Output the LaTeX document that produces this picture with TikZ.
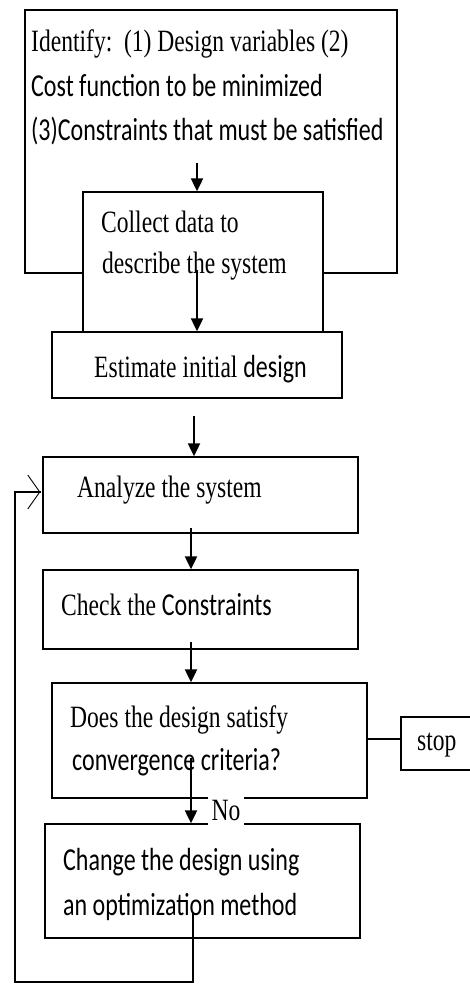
\documentclass[tikz,border=0pt]{standalone}
\usepackage{fontspec}
\setmainfont{Liberation Serif}[FakeStretch=0.76]
\newfontfamily\calfont{Carlito}[FakeStretch=0.75]
\newcommand\sanspart[1]{{\fontsize{32}{38}\calfont #1}}
\usetikzlibrary{arrows.meta}

\begin{document}
\begin{tikzpicture}[x=1pt,y=-1pt,
  box/.style={draw, line width=1.4pt, fill=white, inner sep=0pt},
  txt/.style={anchor=base west, inner sep=0pt, font=\fontsize{31}{37}\selectfont},
  stxt/.style={anchor=base west, inner sep=0pt, font=\fontsize{32}{38}\calfont},
  flow/.style={line width=2.2pt, -{Triangle[length=13pt,width=12pt]}},
  back/.style={line width=2.6pt, -{Straight Barb[length=12pt,width=34pt,line width=0.9pt]}},
]
\useasboundingbox (0,0) rectangle (469,984);

% boxes
\node[box, minimum width=372pt, minimum height=263pt] (ident) at (211,141.5) {};
\node[box, minimum width=240pt, minimum height=140pt] (collect) at (203,262) {};
\node[box, minimum width=290pt, minimum height=66pt]  (estimate) at (197,365) {};
\node[box, minimum width=315pt, minimum height=76pt]  (analyze) at (200.5,495) {};
\node[box, minimum width=315pt, minimum height=79pt]  (check) at (200.5,609.5) {};
\node[box, minimum width=315pt, minimum height=115pt] (conv) at (209.5,740.5) {};
\node[box, minimum width=315pt, minimum height=114pt] (change) at (202.5,881) {};
\node[box, minimum width=99pt, minimum height=53pt]   (stop) at (450.5,743.5) {};

% texts
\node[txt]  (t1a) at (31,52)  {Identify:\ \ (1) Design variables (2)};
\node[stxt] (t1b) at (31,97)  {Cost function to be minimized};
\node[stxt] (t1c) at (31,141) {(3)Constraints that must be satisfied};
\node[txt]  (t2a) at (101,233) {Collect data to};
\node[txt]  (t2b) at (102,273) {describe the system};
\node[txt]  (t3)  at (94,377)  {Estimate initial \sanspart{design}};
\node[txt]  (t4)  at (77,497)  {Analyze the system};
\node[txt]  (t5)  at (61,615)  {Check the \sanspart{Constraints}};
\node[txt]  (t6a) at (70,727)  {Does the design satisfy};
\node[stxt] (t6b) at (72,770)  {convergence criteria?};
\node[stxt] (t7a) at (63,870)  {Change the design using};
\node[stxt] (t7b) at (63,915)  {an optimization method};
\node[txt]  (tstop) at (417,750) {stop};

% connectors
\coordinate (s1) at (197,163);
\coordinate (s2) at (197,270);
\coordinate (s3) at (194,416);
\coordinate (s4) at (191,528);
\coordinate (s5) at (191,642);
\coordinate (s6) at (191,758);
\coordinate (s7) at (193,913);
\coordinate (lc) at (15,982);

\draw[flow] (s1) -- (s1 |- collect.north);
\draw[flow] (s2) -- (s2 |- estimate.north);
\draw[flow] (s3) -- (s3 |- analyze.north);
\draw[flow] (s4) -- (s4 |- check.north);
\draw[flow] (s5) -- (s5 |- conv.north);
\draw[flow] (s6) -- (s6 |- change.north);

\draw[line width=1.4pt] ([yshift=1.5pt]conv.east) -- ([yshift=1.5pt]conv.east -| stop.west);

\draw[back, line cap=rect] (s7) |- (lc) |- ([yshift=3pt,xshift=-2pt]analyze.west);

% label on the "No" branch
\node[fill=white, inner sep=0pt, minimum width=36pt, minimum height=30pt,
      font=\fontsize{31}{37}\selectfont] (no) at (226,810) {No};
\end{tikzpicture}
\end{document}
